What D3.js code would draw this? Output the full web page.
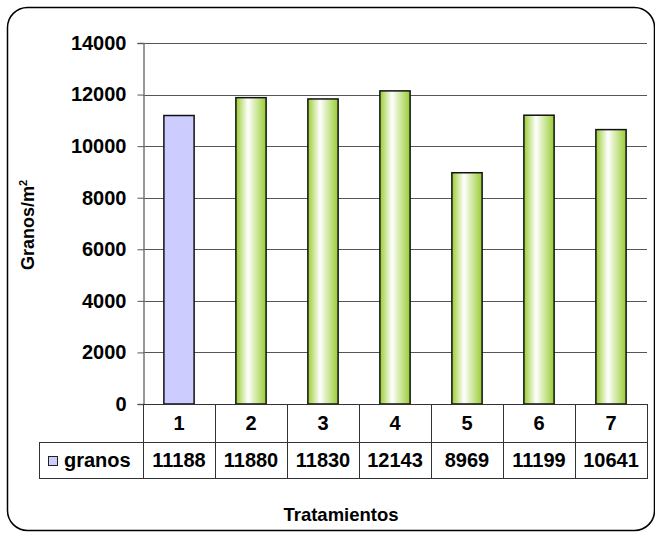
<!DOCTYPE html>
<meta charset="utf-8">
<style>
body { margin: 0; background: #fff; }
text { font-family: "Liberation Sans", Arial, sans-serif; font-weight: bold; fill: #000; }
.grid line { stroke: #555; stroke-width: 1; }
.tbl line { stroke: #333; stroke-width: 1; }
</style>
<svg width="655" height="533"></svg>
<script src="https://d3js.org/d3.v7.min.js"></script>
<script>

// data
var categories = ["1", "2", "3", "4", "5", "6", "7"];
var granos = [11188, 11880, 11830, 12143, 8969, 11199, 10641];
var yTicks = [0, 2000, 4000, 6000, 8000, 10000, 12000, 14000];
var seriesName = "granos";

var svg = d3.select("svg");

var plotL = 143, plotR = 647, plotT = 43, plotB = 404;
var row1 = 442, row2 = 478;
var fs = "20px";

// outer frame
svg.append("rect")
    .attr("x", 7.5).attr("y", 7.5)
    .attr("width", 647).attr("height", 523)
    .attr("rx", 20).attr("ry", 20)
    .attr("fill", "#fff")
    .attr("stroke", "#000")
    .attr("stroke-width", 1.5);

var defs = svg.append("defs");
var grad = defs.append("linearGradient")
    .attr("id", "greenbar")
    .attr("x1", "0%").attr("x2", "100%").attr("y1", "0%").attr("y2", "0%");
grad.append("stop").attr("offset", "0%").attr("stop-color", "#99cc33");
grad.append("stop").attr("offset", "40%").attr("stop-color", "#ffffff");
grad.append("stop").attr("offset", "100%").attr("stop-color", "#99cc33");

var x = d3.scaleBand()
    .domain(categories)
    .range([plotL, plotR])
    .paddingInner(0.58)
    .paddingOuter(0.29);

var xCell = d3.scaleBand().domain(categories).range([plotL, plotR]);

var y = d3.scaleLinear()
    .domain([0, 14000])
    .range([plotB, plotT]);

// gridlines
var grid = svg.append("g").attr("class", "grid");
grid.selectAll("line")
    .data(yTicks.filter(function(d) { return d > 0; }))
    .enter().append("line")
    .attr("x1", plotL).attr("x2", plotR)
    .attr("y1", function(d) { return Math.round(y(d)) + 0.5; })
    .attr("y2", function(d) { return Math.round(y(d)) + 0.5; });

// y axis
var yAxis = svg.append("g")
    .attr("transform", "translate(" + (plotL + 0.5) + ",0)")
    .call(d3.axisLeft(y).tickValues(yTicks).tickSize(6).tickPadding(11).tickFormat(d3.format("d")));
yAxis.select(".domain").attr("stroke", "#777").attr("stroke-width", 1.5);
yAxis.selectAll(".tick line").attr("stroke", "#555");
yAxis.selectAll(".tick text")
    .style("font-size", fs)
    .style("font-family", "'Liberation Sans', Arial, sans-serif")
    .style("font-weight", "bold")
    .attr("fill", "#000");

// bars
svg.selectAll(".bar")
    .data(granos)
    .enter().append("rect")
    .attr("class", "bar")
    .attr("x", function(d, i) { return x(categories[i]); })
    .attr("width", x.bandwidth())
    .attr("y", function(d) { return y(d); })
    .attr("height", function(d) { return y(0) - y(d); })
    .attr("fill", function(d, i) { return i === 0 ? "#ccccff" : "url(#greenbar)"; })
    .attr("stroke", "#111")
    .attr("stroke-width", 1.5);

// data table
var tbl = svg.append("g").attr("class", "tbl");
tbl.append("line").attr("x1", plotL).attr("x2", plotR).attr("y1", plotB + 0.5).attr("y2", plotB + 0.5);
tbl.append("line").attr("x1", 39).attr("x2", plotR).attr("y1", row1 + 0.5).attr("y2", row1 + 0.5);
tbl.append("line").attr("x1", 39).attr("x2", plotR).attr("y1", row2 + 0.5).attr("y2", row2 + 0.5);
tbl.append("line").attr("x1", 39.5).attr("x2", 39.5).attr("y1", row1).attr("y2", row2 + 1);
tbl.selectAll(".vcol")
    .data(categories.concat(["end"]))
    .enter().append("line")
    .attr("class", "vcol")
    .attr("x1", function(d, i) { return Math.round(plotL + i * xCell.bandwidth()) + 0.5; })
    .attr("x2", function(d, i) { return Math.round(plotL + i * xCell.bandwidth()) + 0.5; })
    .attr("y1", plotB).attr("y2", row2 + 1);

svg.selectAll(".catlab")
    .data(categories)
    .enter().append("text")
    .attr("class", "catlab")
    .attr("x", function(d) { return xCell(d) + xCell.bandwidth() / 2; })
    .attr("y", (plotB + row1) / 2 + 7)
    .attr("text-anchor", "middle")
    .style("font-size", fs)
    .text(function(d) { return d; });

svg.selectAll(".vallab")
    .data(granos)
    .enter().append("text")
    .attr("class", "vallab")
    .attr("x", function(d, i) { return xCell(categories[i]) + xCell.bandwidth() / 2; })
    .attr("y", (row1 + row2) / 2 + 7)
    .attr("text-anchor", "middle")
    .style("font-size", fs)
    .text(function(d) { return d; });

// legend key in table
svg.append("rect")
    .attr("x", 48.5).attr("y", 456.5)
    .attr("width", 9).attr("height", 9)
    .attr("fill", "#ccccff")
    .attr("stroke", "#222");
svg.append("text")
    .attr("x", 64).attr("y", (row1 + row2) / 2 + 7)
    .style("font-size", fs)
    .text(seriesName);

// axis titles
svg.append("text")
    .attr("transform", "translate(34,225) rotate(-90)")
    .attr("text-anchor", "middle")
    .style("font-size", "18px")
    .html("Granos/m<tspan dy='-7' font-size='11px'>2</tspan>");

svg.append("text")
    .attr("x", 341).attr("y", 521)
    .attr("text-anchor", "middle")
    .style("font-size", "18.5px")
    .text("Tratamientos");

</script>
